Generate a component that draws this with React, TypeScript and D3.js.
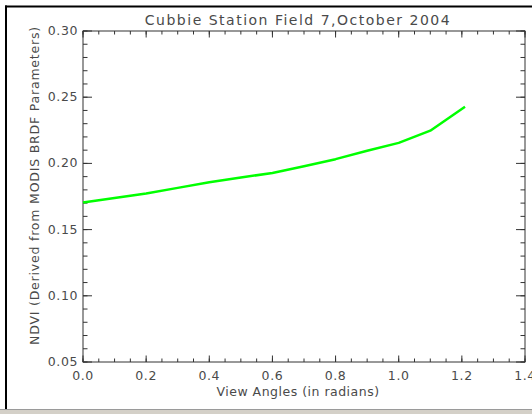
import * as d3 from "d3";

// view angle (radians) vs NDVI derived from MODIS BRDF parameters
const angles = [0, 0.1, 0.2, 0.3, 0.4, 0.5, 0.6, 0.7, 0.8, 0.9, 1.0, 1.1, 1.21];
const ndvi = [0.1705, 0.1738, 0.1772, 0.1815, 0.1858, 0.1893, 0.1928, 0.1978, 0.2032, 0.2095, 0.2155, 0.2247, 0.2428];

const xTickLabels = ["0.0", "0.2", "0.4", "0.6", "0.8", "1.0", "1.2", "1.4"];
const yTickLabels = ["0.05", "0.10", "0.15", "0.20", "0.25", "0.30"];

const title = "Cubbie Station Field 7,October 2004";
const xTitle = "View Angles (in radians)";
const yTitle = "NDVI (Derived from MODIS BRDF Parameters)";

const width = 532;
const height = 414;
const plot = { left: 83, right: 525, top: 31, bottom: 362 };
const font = "'DejaVu Sans', sans-serif";
const textColor = "#4a4a4a";
const axisColor = "#333";

const App = () => {
  const x = d3.scaleLinear().domain([0, 1.4]).range([plot.left, plot.right]);
  const y = d3.scaleLinear().domain([0.05, 0.3]).range([plot.bottom, plot.top]);

  const line = d3
    .line<number>()
    .x((_, i) => x(angles[i]))
    .y((d) => y(d));

  const xMinor = x.ticks(28);
  const yMinor = y.ticks(25);
  const xMajor = x.ticks(7);
  const yMajor = y.ticks(5);

  const xMid = 298;
  const yMid = 185.5;

  return (
    <div style={{ position: "fixed", left: 0, top: 0 }}>
      <svg width={width} height={height} style={{ display: "block", background: "#fff" }}>
        {/* window frame */}
        <rect x={0} y={409} width={width} height={5} fill="#d4d0c8" />
        <line x1={0} x2={width} y1={409.5} y2={409.5} stroke="#9a9a9a" />
        <line x1={5} x2={width} y1={6.5} y2={6.5} stroke="#000" strokeWidth={2} />
        <line x1={6} x2={6} y1={5.5} y2={409} stroke="#000" strokeWidth={2} />

        {/* plot box */}
        <rect
          x={plot.left}
          y={plot.top}
          width={plot.right - plot.left}
          height={plot.bottom - plot.top}
          fill="none"
          stroke={axisColor}
          strokeWidth={1}
        />

        {/* x ticks, bottom and top */}
        {xMinor.map((t) => (
          <g key={`xm${t}`} stroke={axisColor}>
            <line x1={x(t)} x2={x(t)} y1={plot.bottom} y2={plot.bottom - 3.5} />
            <line x1={x(t)} x2={x(t)} y1={plot.top} y2={plot.top + 3.5} />
          </g>
        ))}
        {xMajor.map((t) => (
          <g key={`xM${t}`} stroke={axisColor}>
            <line x1={x(t)} x2={x(t)} y1={plot.bottom} y2={plot.bottom - 6.5} />
            <line x1={x(t)} x2={x(t)} y1={plot.top} y2={plot.top + 6.5} />
          </g>
        ))}

        {/* y ticks, left and right */}
        {yMinor.map((t) => (
          <g key={`ym${t}`} stroke={axisColor}>
            <line x1={plot.left} x2={plot.left + 4.5} y1={y(t)} y2={y(t)} />
            <line x1={plot.right} x2={plot.right - 4.5} y1={y(t)} y2={y(t)} />
          </g>
        ))}
        {yMajor.map((t) => (
          <g key={`yM${t}`} stroke={axisColor}>
            <line x1={plot.left} x2={plot.left + 9} y1={y(t)} y2={y(t)} />
            <line x1={plot.right} x2={plot.right - 9} y1={y(t)} y2={y(t)} />
          </g>
        ))}

        {/* tick labels */}
        <g fontFamily={font} fontSize={12.5} fill={textColor} letterSpacing={0.6}>
          {xMajor.map((t, i) => (
            <text key={`xl${i}`} x={x(t)} y={plot.bottom + 18} textAnchor="middle">
              {xTickLabels[i]}
            </text>
          ))}
          {yMajor.map((t, i) => (
            <text key={`yl${i}`} x={plot.left - 5} y={y(t) + 4} textAnchor="end">
              {yTickLabels[i]}
            </text>
          ))}
        </g>

        {/* titles */}
        <text
          x={xMid}
          y={25}
          textAnchor="middle"
          fontFamily={font}
          fontSize={14}
          letterSpacing={1.5}
          fill={textColor}
        >
          {title}
        </text>
        <text
          x={xMid}
          y={396}
          textAnchor="middle"
          fontFamily={font}
          fontSize={12.5}
          letterSpacing={0.5}
          fill={textColor}
        >
          {xTitle}
        </text>
        <text
          transform={`translate(39,${yMid}) rotate(-90)`}
          textAnchor="middle"
          fontFamily={font}
          fontSize={12.5}
          letterSpacing={0.8}
          fill={textColor}
        >
          {yTitle}
        </text>

        {/* data */}
        <path d={line(ndvi) ?? ""} fill="none" stroke="#00ff00" strokeWidth={2.5} strokeLinejoin="round" />
      </svg>
    </div>
  );
};

export default App;
